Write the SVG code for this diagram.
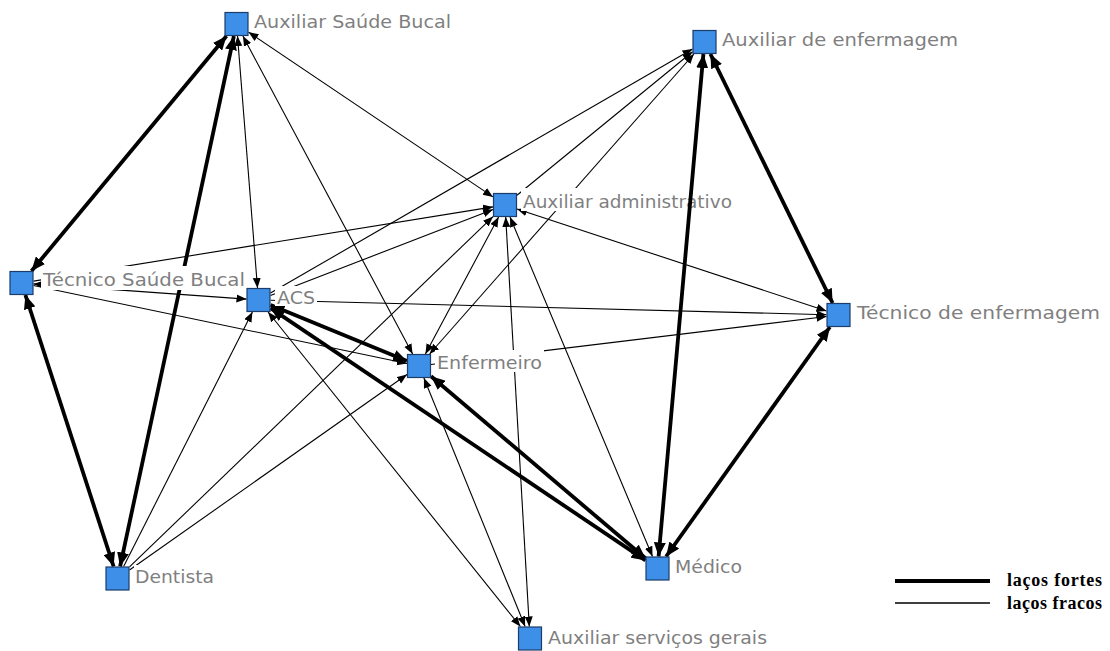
<svg xmlns="http://www.w3.org/2000/svg" width="1110" height="651" viewBox="0 0 1110 651">
<style>
.w{stroke:#000;stroke-width:1.1;fill:none}
.s{stroke:#000;stroke-width:3.8;fill:none}
.w1{marker-end:url(#aw)}
.w2{marker-end:url(#aw);marker-start:url(#aw)}
.s2{marker-end:url(#as);marker-start:url(#as)}
.box{fill:#3d8fe8;stroke:#1c3c6c;stroke-width:1.2}
.bg{fill:#fff}
.lbl{font-family:"DejaVu Sans",Verdana,sans-serif;font-size:18.5px;fill:#7f7f7f}
.leg{font-family:"Liberation Serif","Times New Roman",serif;font-size:18px;font-weight:bold;fill:#000}
</style>
<defs>
<marker id="aw" markerUnits="userSpaceOnUse" markerWidth="11" markerHeight="9" refX="10" refY="4" orient="auto-start-reverse" viewBox="0 0 11 9"><path d="M0,0 L10,4 L0,8 z" fill="#000"/></marker>
<marker id="as" markerUnits="userSpaceOnUse" markerWidth="15" markerHeight="12" refX="14" refY="6" orient="auto-start-reverse" viewBox="0 0 15 12"><path d="M0,0 L14,6 L0,12 z" fill="#000"/></marker>
</defs>
<rect width="1110" height="651" fill="#fff"/>
<g id="connectors">
<line class="w w2" x1="237.5" y1="36" x2="257.5" y2="288"/>
<line class="w w2" x1="242.9" y1="36" x2="412.6" y2="354"/>
<line class="w w2" x1="248.5" y1="32.1" x2="493" y2="196.9"/>
<line class="w w2" x1="33.5" y1="283.9" x2="246.5" y2="299.1"/>
<line class="w w1" x1="33.5" y1="285.5" x2="407" y2="363.5"/>
<line class="w w1" x1="33.5" y1="281.1" x2="493" y2="206.9"/>
<line class="w w1" x1="270.5" y1="295.4" x2="493" y2="209.6"/>
<line class="w w1" x1="270.5" y1="293.1" x2="692.5" y2="48.9"/>
<line class="w w1" x1="270.5" y1="300.3" x2="826.5" y2="314.7"/>
<line class="w w2" x1="268.1" y1="312" x2="520.4" y2="626.5"/>
<line class="w w1" x1="123.6" y1="566.5" x2="252.4" y2="312"/>
<line class="w w1" x1="129.5" y1="566.9" x2="493" y2="216.6"/>
<line class="w w1" x1="129.5" y1="570" x2="407" y2="374.5"/>
<line class="w w2" x1="425.4" y1="354" x2="498.6" y2="217"/>
<line class="w w2" x1="429.6" y1="354" x2="693.9" y2="54"/>
<line class="w w1" x1="431" y1="364.5" x2="826.5" y2="316.5"/>
<line class="w w2" x1="423.9" y1="378" x2="525.1" y2="626.5"/>
<line class="w w2" x1="826.5" y1="311" x2="517" y2="209"/>
<line class="w w2" x1="652.5" y1="556.5" x2="510" y2="217"/>
<line class="w w2" x1="529.3" y1="626.5" x2="505.7" y2="217"/>
<line class="w w1" x1="517" y1="195.2" x2="692.5" y2="51.8"/>
<line class="s s2" x1="31.5" y1="271" x2="226.5" y2="36"/>
<line class="s s2" x1="120.1" y1="566.5" x2="233.9" y2="36"/>
<line class="s s2" x1="25.4" y1="295" x2="113.6" y2="566.5"/>
<line class="s s2" x1="270.5" y1="304.9" x2="407" y2="361.1"/>
<line class="s s2" x1="270.5" y1="308.1" x2="645.5" y2="560.4"/>
<line class="s s2" x1="431" y1="376.2" x2="645.5" y2="558.3"/>
<line class="s s2" x1="710.4" y1="54" x2="832.6" y2="303"/>
<line class="s s2" x1="829.9" y1="327" x2="666.1" y2="556.5"/>
</g>
<g id="node-tsb"><rect class="bg" x="41" y="266" width="206" height="24"/><rect class="box" x="10" y="271.5" width="23" height="23"/><text class="lbl" x="43" y="286" textLength="202" lengthAdjust="spacingAndGlyphs">Técnico Saúde Bucal</text></g>
<g id="node-acs"><rect class="bg" x="275" y="286" width="42" height="20"/><rect class="box" x="247" y="288.5" width="23" height="23"/><text class="lbl" x="277" y="304" textLength="38" lengthAdjust="spacingAndGlyphs">ACS</text></g>
<g id="node-enf"><rect class="bg" x="435" y="350" width="109" height="22"/><rect class="box" x="407.5" y="354.5" width="23" height="23"/><text class="lbl" x="437" y="369" textLength="105" lengthAdjust="spacingAndGlyphs">Enfermeiro</text></g>
<g id="node-aa"><rect class="bg" x="521" y="188" width="166" height="23"/><rect class="box" x="493.5" y="193.5" width="23" height="23"/><text class="lbl" x="523" y="208" textLength="209" lengthAdjust="spacingAndGlyphs">Auxiliar administrativo</text></g>
<g id="conn-top"><line class="s s2" x1="703.4" y1="54" x2="658.6" y2="556.5"/></g>
<g id="node-asb"><rect class="bg" x="252" y="8" width="201" height="23"/><rect class="box" x="225" y="12.5" width="23" height="23"/><text class="lbl" x="254" y="28" textLength="197" lengthAdjust="spacingAndGlyphs">Auxiliar Saúde Bucal</text></g>
<g id="node-ae"><rect class="bg" x="720" y="26" width="240" height="23"/><rect class="box" x="693" y="30.5" width="23" height="23"/><text class="lbl" x="722" y="46" textLength="236" lengthAdjust="spacingAndGlyphs">Auxiliar de enfermagem</text></g>
<g id="node-te"><rect class="bg" x="855" y="299" width="247" height="23"/><rect class="box" x="827" y="303.5" width="23" height="23"/><text class="lbl" x="857" y="319" textLength="243" lengthAdjust="spacingAndGlyphs">Técnico de enfermagem</text></g>
<g id="node-dentista"><rect class="bg" x="134" y="565" width="82" height="22"/><rect class="box" x="106" y="567" width="23" height="23"/><text class="lbl" x="135" y="583" textLength="79" lengthAdjust="spacingAndGlyphs">Dentista</text></g>
<g id="node-medico"><rect class="bg" x="673" y="554" width="71" height="22"/><rect class="box" x="646" y="557" width="23" height="23"/><text class="lbl" x="675" y="573" textLength="67" lengthAdjust="spacingAndGlyphs">Médico</text></g>
<g id="node-asg"><rect class="bg" x="546" y="625" width="223" height="23"/><rect class="box" x="518.5" y="627" width="23" height="23"/><text class="lbl" x="548" y="644" textLength="219" lengthAdjust="spacingAndGlyphs">Auxiliar serviços gerais</text></g>
<g id="legend">
<line x1="895" y1="581" x2="990" y2="581" stroke="#000" stroke-width="4"/>
<line x1="895" y1="603" x2="990" y2="603" stroke="#000" stroke-width="1.3"/>
<text class="leg" x="1007" y="586" textLength="95" lengthAdjust="spacing">laços fortes</text>
<text class="leg" x="1007" y="609" textLength="95" lengthAdjust="spacing">laços fracos</text>
</g>
</svg>
